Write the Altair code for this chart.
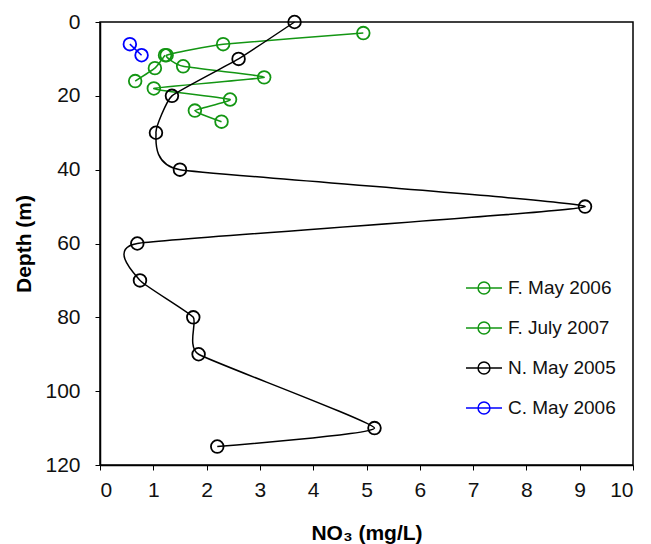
import altair as alt
import pandas as pd

# F. July 2007 (green)
fj_depth = [3, 6, 9, 12, 15, 18, 21, 24, 27]
fj_no3 = [4.94, 2.31, 1.25, 1.56, 3.08, 1.01, 2.44, 1.78, 2.28]
# F. May 2006 (green)
fm_depth = [9, 12.5, 16]
fm_no3 = [1.22, 1.03, 0.66]
# N. May 2005 (black)
n_depth = [0, 10, 20, 30, 40, 50, 60, 70, 80, 90, 110, 115]
n_no3 = [3.65, 2.6, 1.35, 1.05, 1.5, 9.1, 0.7, 0.75, 1.75, 1.85, 5.15, 2.2]
# C. May 2006 (blue)
c_depth = [6, 9]
c_no3 = [0.56, 0.78]

series = ["F. May 2006", "F. July 2007", "N. May 2005", "C. May 2006"]
colors = ["#139613", "#139613", "black", "#0000ff"]

rows = []
for name, ds, vs in [
    ("F. May 2006", fm_depth, fm_no3),
    ("F. July 2007", fj_depth, fj_no3),
    ("N. May 2005", n_depth, n_no3),
    ("C. May 2006", c_depth, c_no3),
]:
    for d, v in zip(ds, vs):
        rows.append({"series": name, "depth": d, "no3": v})
df = pd.DataFrame(rows)

FONT = "Liberation Sans"
sym = "M-1,0L1,0M-0.33,0A0.33,0.33 0 1,0 0.33,0A0.33,0.33 0 1,0 -0.33,0"

x = alt.X("no3:Q", scale=alt.Scale(domain=[0, 10], nice=False),
          axis=alt.Axis(values=list(range(11)), title="NO₃ (mg/L)",
                        titleY=74, titleBaseline="alphabetic"))
y = alt.Y("depth:Q", scale=alt.Scale(domain=[0, 120], reverse=True, nice=False),
          axis=alt.Axis(values=list(range(0, 121, 20)), title="Depth (m)",
                        titleX=-70, titleBaseline="alphabetic"))
color = alt.Color("series:N", scale=alt.Scale(domain=series, range=colors),
                  legend=alt.Legend(title=None, orient="none", legendX=365, legendY=247))

base = alt.Chart(df).encode(x=x, y=y, color=color)

lines = base.mark_line(interpolate="cardinal", tension=0.6, strokeWidth=1.5).encode(order="depth:Q")
points = base.mark_point(shape="circle", filled=False, size=160, strokeWidth=1.8, opacity=1)

chart = alt.layer(lines, points).properties(
    width=533, height=443,
    autosize=alt.AutoSizeParams(type="none"),
    padding={"left": 92, "top": 14, "right": 10, "bottom": 80},
).configure_view(
    stroke="black", strokeWidth=1.5
).configure_axis(
    grid=False, domainColor="black", domainWidth=1.5, tickColor="black",
    tickSize=5, tickWidth=1, labelFont=FONT, labelFontSize=21, labelColor="#111",
    titleFont=FONT, titleFontSize=21, titleFontWeight="bold", titleColor="black",
).configure_axisX(labelPadding=9).configure_axisY(labelPadding=15).configure_legend(
    symbolType=sym, symbolSize=1296, symbolStrokeWidth=1.5,
    labelFontSize=19, labelFont=FONT, labelColor="#111",
    labelOffset=5, rowPadding=11, padding=0,
)

chart.save("out.html", embed_options={"renderer": "svg", "actions": False})
